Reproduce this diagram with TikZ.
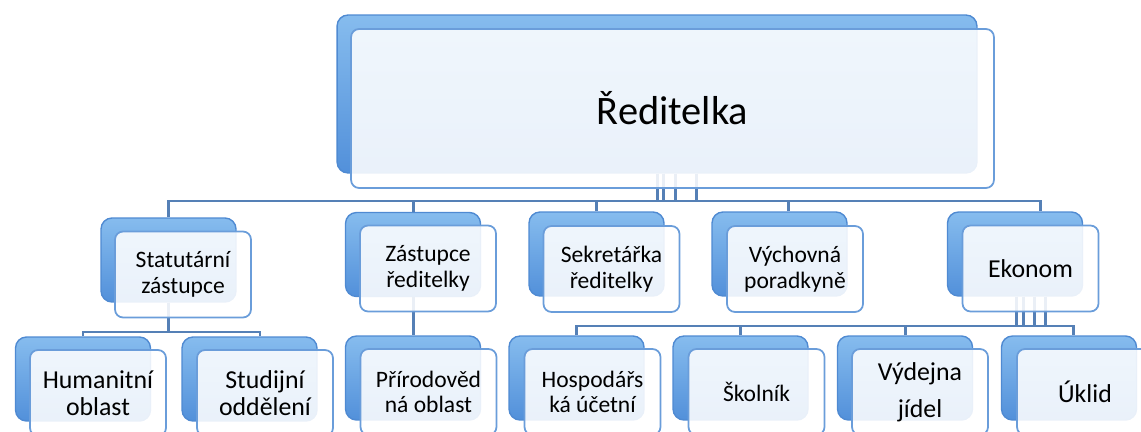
\documentclass[tikz,border=0pt]{standalone}
\usepackage{fontspec}
\setmainfont{Carlito}
\definecolor{backblue}{HTML}{5290DA}
\definecolor{backhi}{HTML}{86BCEE}
\definecolor{backedge}{HTML}{4F8AD2}
\definecolor{frontedge}{HTML}{6A9DDA}
\definecolor{connblue}{HTML}{5580B6}
\tikzset{
	backbox/.style={rounded corners=0.22cm, draw=backedge, line width=0.8pt,
		top color=backhi, bottom color=backblue,
		minimum width=2.7cm, minimum height=1.68cm},
	frontbox/.style={rounded corners=0.16cm, draw=frontedge, line width=1pt,
		fill=white, fill opacity=0.88, text opacity=1, align=center, inner sep=0pt,
		minimum width=2.72cm, minimum height=1.72cm, smalltext},
	smalltext/.style={font=\fontsize{13.4}{14.6}\selectfont},
	bigtext/.style={font=\fontsize{14.7}{15.4}\selectfont},
	conn/.style={draw=connblue, line width=1.7pt}
}
\begin{document}
\begin{tikzpicture}[x=0.02cm,y=-0.02cm]
	\clip (0,0) rectangle (1141,432);
	% back boxes
	\node[backbox, minimum width=12.8cm, minimum height=3.16cm] (red-b) at (657,94) {};
	\node[backbox] (stat-b) at (168.5,260) {};
	\node[backbox] (zast-b) at (413,254.5) {};
	\node[backbox] (sekr-b) at (596.5,254) {};
	\node[backbox] (vych-b) at (779.5,254) {};
	\node[backbox] (ekon-b) at (1015,254) {};
	\node[backbox] (hum-b) at (83,379) {};
	\node[backbox] (stud-b) at (249.5,379) {};
	\node[backbox] (prir-b) at (413,378) {};
	\node[backbox] (hosp-b) at (576.5,378) {};
	\node[backbox] (skol-b) at (740.5,378) {};
	\node[backbox] (vyd-b) at (905,378) {};
	\node[backbox] (ukl-b) at (1069,378) {};
	% connectors
	\coordinate (bus1) at (0,201);
	\coordinate (bus2) at (0,332);
	\coordinate (bus3) at (0,326);
	\foreach \dx in {0,6,18,39}
		\draw[conn] ([xshift=\dx*0.02cm]red-b.south) -- ([xshift=\dx*0.02cm]red-b.south |- bus1);
	\draw[conn] (stat-b.north) |- ([xshift=0.5cm]ekon-b.north |- bus1) -- ([xshift=0.5cm]ekon-b.north);
	\foreach \n in {zast-b,sekr-b}
		\draw[conn] (\n.north) -- (\n.north |- bus1);
	\draw[conn] ([xshift=0.17cm]vych-b.north) -- ([xshift=0.17cm]vych-b.north |- bus1);
	\draw[conn] (stat-b.south) -- (stat-b.south |- bus2);
	\draw[conn] (hum-b.north) |- ([xshift=0.21cm]stud-b.north |- bus2) -- ([xshift=0.21cm]stud-b.north);
	\draw[conn] (zast-b.south) -- (prir-b.north);
	\foreach \dx in {1,8,19,30}
		\draw[conn] ([xshift=\dx*0.02cm]ekon-b.south) -- ([xshift=\dx*0.02cm]ekon-b.south |- bus3);
	\draw[conn] (hosp-b.north) |- ([xshift=0.08cm]ukl-b.north |- bus3) -- ([xshift=0.08cm]ukl-b.north);
	\foreach \n in {skol-b,vyd-b}
		\draw[conn] (\n.north) -- (\n.north |- bus3);
	% front boxes
	\node[frontbox, minimum width=12.86cm, minimum height=3.18cm, font=\fontsize{23}{28}\selectfont] (red) at (672.5,108.5) {Ředitelka};
	\node[frontbox] (stat) at (183,274.5) {Statutární\\zástupce};
	\node[frontbox] (zast) at (428,268.5) {Zástupce\\ředitelky};
	\node[frontbox] (sekr) at (611.5,269) {Sekretářka\\ředitelky};
	\node[frontbox] (vych) at (795,269) {Výchovná\\poradkyně};
	\node[frontbox, bigtext] (ekon) at (1030.5,268.5) {Ekonom};
	\node[frontbox, bigtext] (hum) at (98,393) {Humanitní\\oblast};
	\node[frontbox, bigtext] (stud) at (265,393) {Studijní\\oddělení};
	\node[frontbox] (prir) at (428.5,392) {Přírodověd\\ná oblast};
	\node[frontbox] (hosp) at (592.5,392) {Hospodářs\\ká účetní};
	\node[frontbox] (skol) at (756.5,392) {Školník};
	\node[frontbox, bigtext, font=\fontsize{14.7}{21}\selectfont] (vyd) at (920,392) {Výdejna\\jídel};
	\node[frontbox, bigtext] (ukl) at (1085,392) {Úklid};
\end{tikzpicture}
\end{document}
